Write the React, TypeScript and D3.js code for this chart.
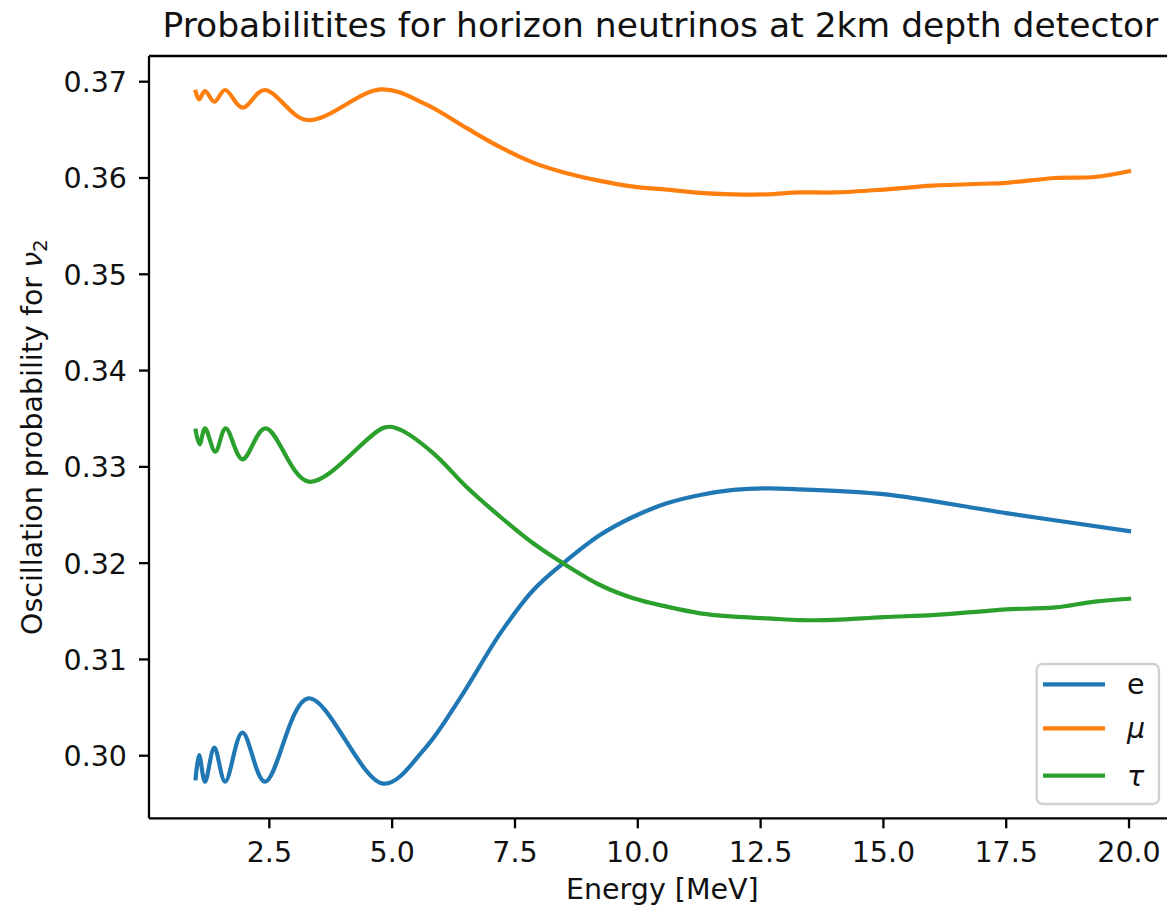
import React from "react";
import * as d3 from "d3";

const W = 1167;
const H = 907;

const seriesNames = ["e", "μ", "τ"];
const seriesColors = ["#1f77b4", "#ff7f0e", "#2ca02c"];

// [energy MeV, probability]
const electronData: [number, number][] = [
  [1.0, 0.29765], [1.07, 0.30007], [1.19, 0.2973], [1.38, 0.30083], [1.6, 0.2973],
  [1.95, 0.30239], [2.41, 0.2973], [3.29, 0.30596], [4.82, 0.2971], [5.67, 0.30077],
  [6.38, 0.30596], [7.2, 0.31271], [7.87, 0.31718], [8.48, 0.31998], [9.23, 0.32292],
  [9.91, 0.32482], [10.59, 0.32621], [11.27, 0.32708], [11.95, 0.3276], [12.63, 0.32777],
  [13.3, 0.32767], [15.0, 0.32716], [17.5, 0.3252], [20.0, 0.32333],
];
const muonData: [number, number][] = [
  [1.0, 0.36896], [1.07, 0.36817], [1.19, 0.36903], [1.38, 0.36792], [1.6, 0.36914],
  [1.95, 0.3673], [2.4, 0.36914], [3.27, 0.36602], [4.77, 0.36921], [5.67, 0.3677],
  [6.51, 0.3652], [7.2, 0.3632], [7.87, 0.3616], [8.48, 0.3606], [9.23, 0.3597],
  [9.91, 0.3591], [10.59, 0.3588], [11.27, 0.35845], [11.95, 0.3583], [12.63, 0.3583],
  [13.3, 0.3585], [14.0, 0.3585], [15.0, 0.3588], [16.0, 0.3592], [17.0, 0.3594],
  [17.5, 0.3595], [18.5, 0.36], [19.3, 0.3601], [20.0, 0.3607],
];
const tauData: [number, number][] = [
  [1.0, 0.33375], [1.08, 0.33234], [1.19, 0.334], [1.4, 0.33157], [1.61, 0.334],
  [1.95, 0.33078], [2.42, 0.334], [3.3, 0.32846], [4.85, 0.3341], [5.17, 0.33384],
  [5.84, 0.33141], [6.51, 0.32794], [7.2, 0.32482], [7.87, 0.32206], [8.48, 0.31998],
  [9.23, 0.31773], [9.91, 0.31635], [10.59, 0.31548], [11.27, 0.31479], [11.95, 0.31444],
  [12.63, 0.31427], [13.3, 0.31409], [14.0, 0.3141], [15.0, 0.3144], [16.0, 0.3146],
  [17.0, 0.315], [17.5, 0.3152], [18.5, 0.3154], [19.3, 0.316], [20.0, 0.3163],
];

const xTicks = [2.5, 5.0, 7.5, 10.0, 12.5, 15.0, 17.5, 20.0];
const yTicks = [0.3, 0.31, 0.32, 0.33, 0.34, 0.35, 0.36, 0.37];

const titleText = "Probabilitites for horizon neutrinos at 2km depth detector";
const xLabel = "Energy [MeV]";
const yLabel = "Oscillation probability for ";

const FONT = "'DejaVu Sans', sans-serif";

export default function App() {
  const left = 149;
  const right = 1175.7;
  const top = 56;
  const bottom = 818.3;
  const x = d3.scaleLinear().domain([0.05, 20.95]).range([left, right]);
  const y = d3.scaleLinear().domain([0.2935, 0.37267]).range([bottom, top]);
  const line = d3
    .line<[number, number]>()
    .x((d) => x(d[0]))
    .y((d) => y(d[1]))
    .curve(d3.curveCatmullRom.alpha(0.5));
  const all = [electronData, muonData, tauData];
  const lw = 4.2;
  const tickLen = 10;
  const fs = 28.5;
  const textColor = "#111";

  const legX = 1036.7;
  const legY = 664;
  const legRows = [684.3, 728.3, 775.7];

  return (
    <svg
      width={W}
      height={H}
      style={{ position: "absolute", left: 0, top: 0, background: "#fff" }}
      fontFamily={FONT}
    >
      <rect x={0} y={0} width={W} height={H} fill="#fff" />
      <defs>
        <clipPath id="plotclip">
          <rect x={left} y={top} width={right - left} height={bottom - top} />
        </clipPath>
      </defs>
      <g clipPath="url(#plotclip)">
        {all.map((d, i) => (
          <path
            key={i}
            d={line(d) || ""}
            fill="none"
            stroke={seriesColors[i]}
            strokeWidth={lw}
            strokeLinejoin="round"
            strokeLinecap="square"
          />
        ))}
      </g>
      {/* spines */}
      <g stroke="#000" strokeWidth={2.3} fill="none">
        <line x1={left} y1={top} x2={left} y2={bottom} />
        <line x1={left} y1={bottom} x2={right} y2={bottom} />
        <line x1={left} y1={top} x2={right} y2={top} />
        <line x1={right} y1={top} x2={right} y2={bottom} />
      </g>
      {/* x ticks */}
      {xTicks.map((t) => (
        <g key={"x" + t}>
          <line x1={x(t)} x2={x(t)} y1={bottom} y2={bottom + tickLen} stroke="#000" strokeWidth={2.3} />
          <text x={x(t)} y={862} textAnchor="middle" fontSize={fs} fill={textColor}>
            {t.toFixed(1)}
          </text>
        </g>
      ))}
      {/* y ticks */}
      {yTicks.map((t) => (
        <g key={"y" + t}>
          <line x1={left - tickLen} x2={left} y1={y(t)} y2={y(t)} stroke="#000" strokeWidth={2.3} />
          <text x={127} y={y(t) + 10.4} textAnchor="end" fontSize={fs} fill={textColor}>
            {t.toFixed(2)}
          </text>
        </g>
      ))}
      {/* title */}
      <text x={(left + right) / 2 - 2} y={37} textAnchor="middle" fontSize={34.5} fill={textColor}>
        {titleText}
      </text>
      {/* x label */}
      <text x={(left + right) / 2} y={899} textAnchor="middle" fontSize={fs} fill={textColor}>
        {xLabel}
      </text>
      {/* y label */}
      <text
        transform={`translate(42, ${(top + bottom) / 2}) rotate(-90)`}
        textAnchor="middle"
        fontSize={fs}
        fill={textColor}
      >
        {yLabel}
        <tspan fontStyle="italic">ν</tspan>
        <tspan fontSize={fs * 0.7} dy={5}>2</tspan>
      </text>
      {/* legend */}
      <rect
        x={legX}
        y={legY}
        width={122.3}
        height={140}
        rx={6}
        fill="#fff"
        fillOpacity={0.8}
        stroke="#d0d0d0"
        strokeWidth={2.3}
      />
      {seriesNames.map((n, i) => (
        <g key={n}>
          <line
            x1={1043}
            x2={1105}
            y1={legRows[i]}
            y2={legRows[i]}
            stroke={seriesColors[i]}
            strokeWidth={lw}
          />
          <text
            x={1127}
            y={legRows[i] + 10}
            fontSize={fs}
            fill={textColor}
            fontStyle={i === 0 ? "normal" : "italic"}
          >
            {n}
          </text>
        </g>
      ))}
    </svg>
  );
}
